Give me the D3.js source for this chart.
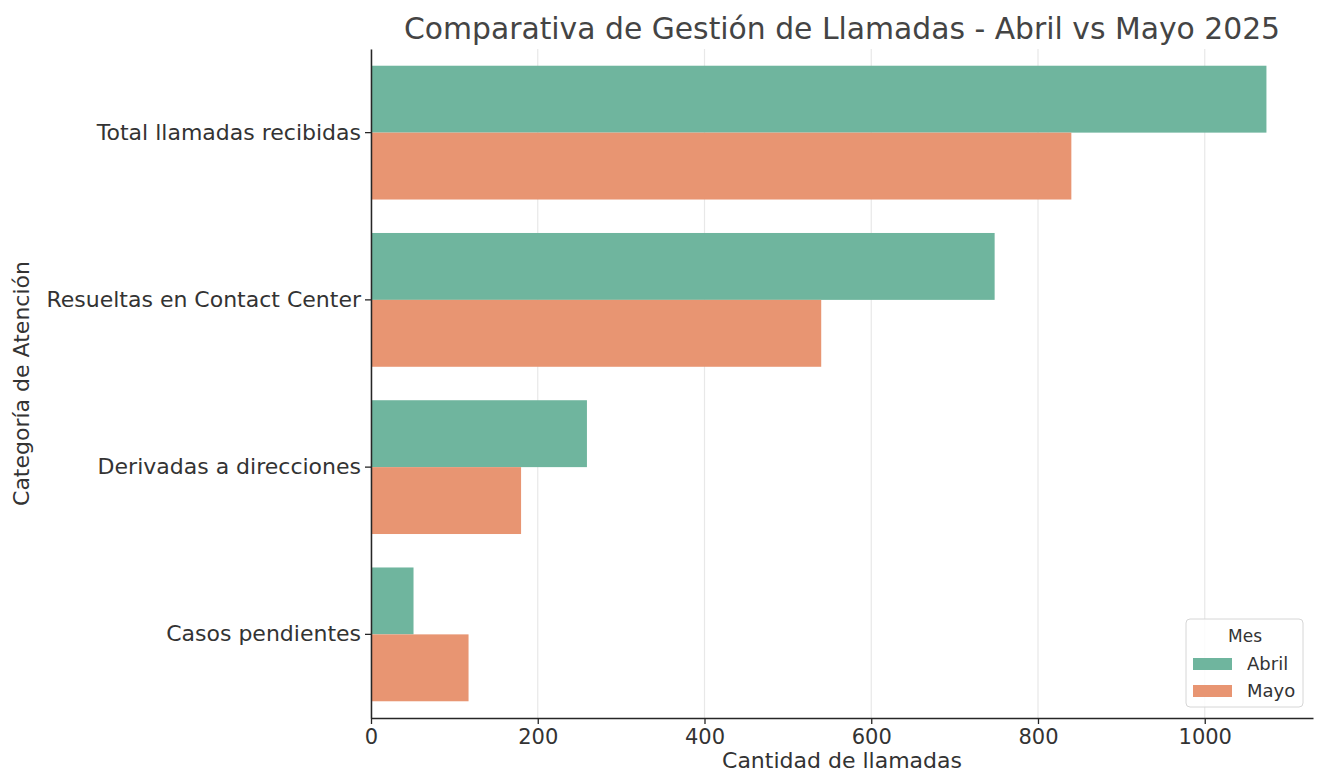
<!DOCTYPE html>
<html>
<head>
<meta charset="utf-8">
<script src="https://cdn.jsdelivr.net/npm/d3@7"></script>
<style>
  body { margin: 0; background: #fff; }
  svg text { font-family: "DejaVu Sans", sans-serif; }
</style>
</head>
<body>
<div id="chart"></div>
<script>
const categories = ["Total llamadas recibidas", "Resueltas en Contact Center", "Derivadas a direcciones", "Casos pendientes"];
const months = ["Abril", "Mayo"];
const abril = [1074, 748, 259, 51];
const mayo = [840, 540, 180, 117];
const xTicks = [0, 200, 400, 600, 800, 1000];
const monthColors = ["#6fb59e", "#e89572"];

const W = 1323, H = 776;
const margin = { top: 49, right: 10, bottom: 58, left: 371 };
const width = 1313 - margin.left,
      height = 718 - margin.top;

const svg = d3.select("#chart")
  .append("svg")
    .attr("width", W)
    .attr("height", H);

const g = svg.append("g")
  .attr("transform", `translate(${margin.left}, ${margin.top})`);

const rows = [];
categories.forEach((c, i) => {
  rows.push({ cat: c, mes: "Abril", value: abril[i] });
  rows.push({ cat: c, mes: "Mayo", value: mayo[i] });
});

const maxVal = d3.max(rows, d => d.value);
const x = d3.scaleLinear()
  .domain([0, maxVal * 1.052])
  .range([0, width]);

const y = d3.scaleBand()
  .domain(categories)
  .range([0, height])
  .padding(0);

const inner = d3.scaleBand()
  .domain(months)
  .range([y.bandwidth() * 0.1, y.bandwidth() * 0.9]);

const color = d3.scaleOrdinal().domain(months).range(monthColors);

// grid
g.selectAll(".grid")
  .data(xTicks)
  .join("line")
    .attr("x1", d => x(d)).attr("x2", d => x(d))
    .attr("y1", 0).attr("y2", height)
    .attr("stroke", "#e8e8e8")
    .attr("stroke-width", 1.2);

// bars
g.selectAll(".bar")
  .data(rows)
  .join("rect")
    .attr("x", x(0))
    .attr("y", d => y(d.cat) + inner(d.mes))
    .attr("width", d => x(d.value) - x(0))
    .attr("height", inner.bandwidth())
    .attr("fill", d => color(d.mes));

// x axis
const xAxis = g.append("g")
  .attr("transform", `translate(0,${height})`)
  .call(d3.axisBottom(x).tickValues(xTicks).tickFormat(d3.format("d"))
    .tickSize(6).tickPadding(5).tickSizeOuter(0));
xAxis.select(".domain").attr("stroke", "#262626").attr("stroke-width", 1.5);
xAxis.selectAll(".tick line").attr("stroke", "#262626").attr("stroke-width", 1.3);
xAxis.selectAll("text").attr("fill", "#333").style("font-size", "21px");

// y axis
const yAxis = g.append("g")
  .call(d3.axisLeft(y).tickSize(6).tickPadding(4).tickSizeOuter(0));
yAxis.select(".domain").attr("stroke", "#262626").attr("stroke-width", 1.5);
yAxis.selectAll(".tick line").attr("stroke", "#262626").attr("stroke-width", 1.3);
yAxis.selectAll("text").attr("fill", "#333").style("font-size", "22px");

// title and labels
svg.append("text")
  .attr("x", margin.left + width / 2)
  .attr("y", 39)
  .attr("text-anchor", "middle")
  .attr("fill", "#444")
  .style("font-size", "29.8px")
  .text("Comparativa de Gestión de Llamadas - Abril vs Mayo 2025");

svg.append("text")
  .attr("x", margin.left + width / 2)
  .attr("y", 768)
  .attr("text-anchor", "middle")
  .attr("fill", "#333")
  .style("font-size", "22px")
  .text("Cantidad de llamadas");

svg.append("text")
  .attr("transform", `translate(29, ${margin.top + height / 2}) rotate(-90)`)
  .attr("text-anchor", "middle")
  .attr("fill", "#333")
  .style("font-size", "22px")
  .text("Categoría de Atención");

// legend
const legend = svg.append("g")
  .attr("transform", "translate(1186, 619)");

legend.append("rect")
  .attr("width", 117)
  .attr("height", 88)
  .attr("rx", 4)
  .attr("fill", "#fff")
  .attr("fill-opacity", 0.85)
  .attr("stroke", "#d6d6d6");

legend.append("text")
  .attr("x", 59)
  .attr("y", 23)
  .attr("text-anchor", "middle")
  .attr("fill", "#333")
  .style("font-size", "17px")
  .text("Mes");

const items = legend.selectAll(".item")
  .data(months)
  .join("g")
    .attr("transform", (d, i) => `translate(7, ${39 + i * 27})`);

items.append("rect")
  .attr("width", 39)
  .attr("height", 12)
  .attr("fill", d => color(d));

items.append("text")
  .attr("x", 54)
  .attr("y", 12)
  .attr("fill", "#333")
  .style("font-size", "18px")
  .text(d => d);
</script>
</body>
</html>
